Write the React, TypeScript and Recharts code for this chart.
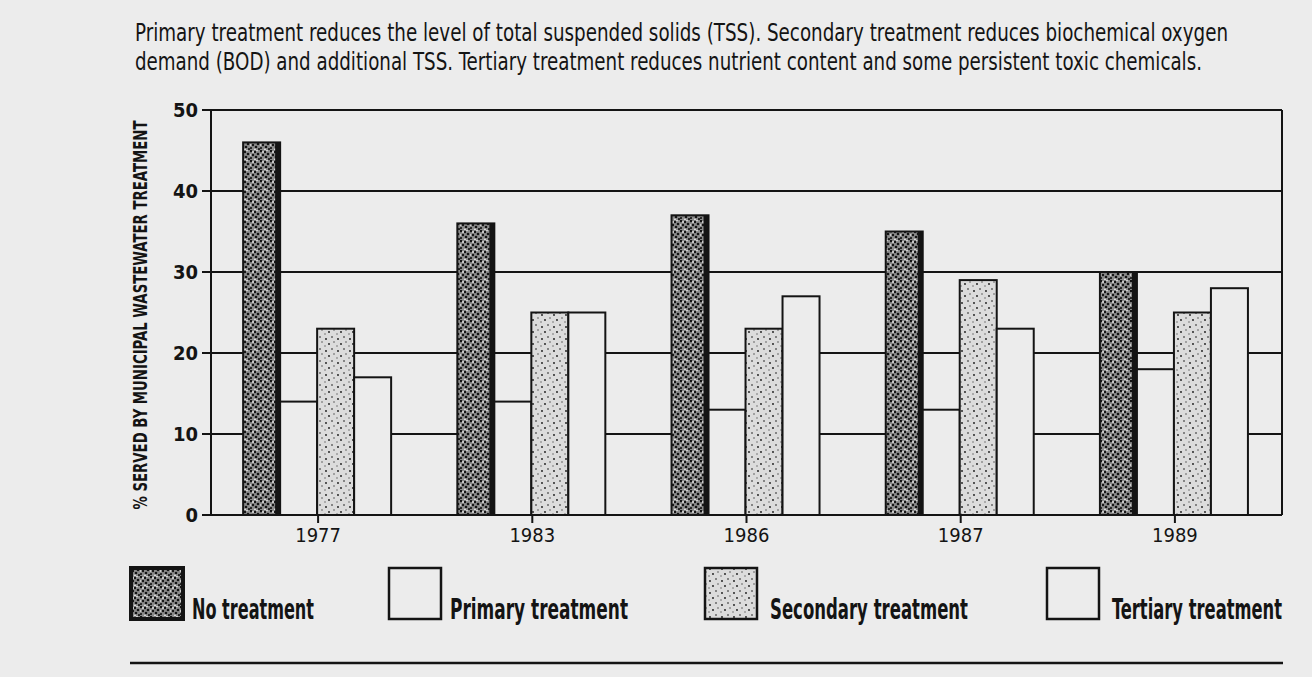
import React from "react";
import { BarChart, Bar, XAxis, YAxis, CartesianGrid, ReferenceLine } from "recharts";

const YEARS = ["1977", "1983", "1986", "1987", "1989"];
const NO_TREATMENT = [46, 36, 37, 35, 30];
const PRIMARY = [14, 14, 13, 13, 18];
const SECONDARY = [23, 25, 23, 29, 25];
const TERTIARY = [17, 25, 27, 23, 28];
const Y_TICKS = [0, 10, 20, 30, 40, 50];

const TITLE_LINES = [
  "Primary treatment reduces the level of total suspended solids (TSS). Secondary treatment reduces biochemical oxygen",
  "demand (BOD) and additional TSS. Tertiary treatment reduces nutrient content and some persistent toxic chemicals.",
];
const Y_LABEL = "% SERVED BY MUNICIPAL WASTEWATER TREATMENT";

const PAPER = "#ececec";
const INK = "#141414";
const FONT = "'Liberation Sans Narrow', 'DejaVu Sans Condensed', 'Roboto Condensed', sans-serif";

const SERIES = [
  { key: "none", name: "No treatment", fill: "url(#darkDots)", edge: true },
  { key: "primary", name: "Primary treatment", fill: PAPER, edge: false },
  { key: "secondary", name: "Secondary treatment", fill: "url(#lightDots)", edge: false },
  { key: "tertiary", name: "Tertiary treatment", fill: PAPER, edge: false },
];

const data = YEARS.map((year, i) => ({
  year,
  none: NO_TREATMENT[i],
  primary: PRIMARY[i],
  secondary: SECONDARY[i],
  tertiary: TERTIARY[i],
}));

// legend slots (box left edge, text start, text width) as measured off the print
const LEGEND_SLOTS = [
  { box: 131, text: 192, w: 122 },
  { box: 389, text: 450, w: 178 },
  { box: 705, text: 770, w: 198 },
  { box: 1047, text: 1112, w: 170 },
];

// eslint-disable-next-line @typescript-eslint/no-explicit-any
function PatternBar(props: any) {
  const { x, y, width, height, fill, edge } = props;
  if (!height || height <= 0) return null;
  return (
    <g>
      <rect x={x} y={y} width={width} height={height} fill={fill} stroke={INK} strokeWidth={2} />
      {edge && <rect x={x + width - 5} y={y} width={5} height={height} fill={INK} />}
    </g>
  );
}

function LegendBlock() {
  return (
    <svg width={1312} height={110} style={{ position: "absolute", left: 0, top: 566 }}>
      {SERIES.map((s, i) => {
        const slot = LEGEND_SLOTS[i];
        return (
          <g key={s.key}>
            <rect x={slot.box} y={2} width={52} height={51} fill={s.fill} stroke={INK} strokeWidth={2.5} />
            {s.edge && <rect x={slot.box} y={2} width={52} height={51} fill="none" stroke={INK} strokeWidth={4} />}
            <text x={slot.text} y={53} fontSize={28} fontWeight={700} fill={INK} fontFamily={FONT}
              textLength={slot.w} lengthAdjust="spacingAndGlyphs">
              {s.name}
            </text>
          </g>
        );
      })}
      <line x1={130} x2={1283} y1={97} y2={97} stroke={INK} strokeWidth={2.5} />
    </svg>
  );
}

export default function App() {
  return (
    <div style={{ position: "absolute", left: 0, top: 0, width: 1312, height: 677, background: PAPER, overflow: "hidden" }}>
      <svg width={1312} height={677} style={{ position: "absolute", left: 0, top: 0 }}>
        <defs>
          <pattern id="darkDots" width={10} height={10} patternUnits="userSpaceOnUse">
            <rect width={10} height={10} fill="#8c8c8c" />
            <circle cx={1} cy={1} r={1.3} fill={INK} />
            <circle cx={5} cy={2} r={1.2} fill={INK} />
            <circle cx={8} cy={4} r={1.3} fill={INK} />
            <circle cx={3} cy={5} r={1.2} fill={INK} />
            <circle cx={6} cy={7} r={1.3} fill={INK} />
            <circle cx={1} cy={8} r={1.1} fill={INK} />
            <circle cx={9} cy={9} r={1.1} fill={INK} />
            <circle cx={3} cy={2} r={0.9} fill="#e8e8e8" />
            <circle cx={7} cy={0.5} r={0.8} fill="#e8e8e8" />
            <circle cx={0.5} cy={5} r={0.8} fill="#e8e8e8" />
            <circle cx={5} cy={9.5} r={0.9} fill="#e8e8e8" />
          </pattern>
          <pattern id="lightDots" width={12} height={12} patternUnits="userSpaceOnUse">
            <rect width={12} height={12} fill="#dcdcdc" />
            <circle cx={2} cy={3} r={0.9} fill={INK} />
            <circle cx={8} cy={1} r={0.8} fill={INK} />
            <circle cx={5} cy={8} r={0.9} fill={INK} />
            <circle cx={10} cy={6} r={0.8} fill="#555" />
            <circle cx={1} cy={10} r={0.7} fill="#555" />
          </pattern>
        </defs>
        {TITLE_LINES.map((line, i) => (
          <text key={i} x={135} y={41 + i * 29} fontSize={25} fill={INK} fontFamily={FONT}
            textLength={i === 0 ? 1093 : 1067} lengthAdjust="spacingAndGlyphs">
            {line}
          </text>
        ))}
        <text transform="translate(147,315) rotate(-90)" textAnchor="middle" fontSize={20} fontWeight={700}
          fill={INK} fontFamily={FONT} textLength={389} lengthAdjust="spacingAndGlyphs">
          {Y_LABEL}
        </text>
      </svg>
      <div style={{ position: "absolute", left: 0, top: 0 }}>
        <BarChart
          width={1312}
          height={677}
          data={data}
          margin={{ top: 110, right: 30, left: 151, bottom: 122 }}
          barCategoryGap="15%"
          barGap={0}
        >
          <CartesianGrid vertical={false} stroke={INK} strokeWidth={2} />
          <XAxis
            dataKey="year"
            height={40}
            axisLine={{ stroke: INK, strokeWidth: 2 }}
            tickLine={{ stroke: INK, strokeWidth: 2 }}
            tickSize={8}
            tickMargin={5}
            tick={{ fontSize: 20, fill: INK, fontFamily: FONT }}
          />
          <YAxis
            domain={[0, 50]}
            ticks={Y_TICKS}
            width={60}
            axisLine={{ stroke: INK, strokeWidth: 2 }}
            tickLine={{ stroke: INK, strokeWidth: 2 }}
            tickSize={9}
            tickMargin={4}
            tick={{ fontSize: 20, fill: INK, fontFamily: FONT, fontWeight: 700 }}
          />
          <ReferenceLine x="1989" position="end" stroke={INK} strokeWidth={2} />
          {SERIES.map((s) => (
            <Bar
              key={s.key}
              dataKey={s.key}
              name={s.name}
              fill={s.fill}
              isAnimationActive={false}
              shape={(p: any) => <PatternBar {...p} fill={s.fill} edge={s.edge} />}
            />
          ))}
        </BarChart>
      </div>
      <LegendBlock />
    </div>
  );
}
